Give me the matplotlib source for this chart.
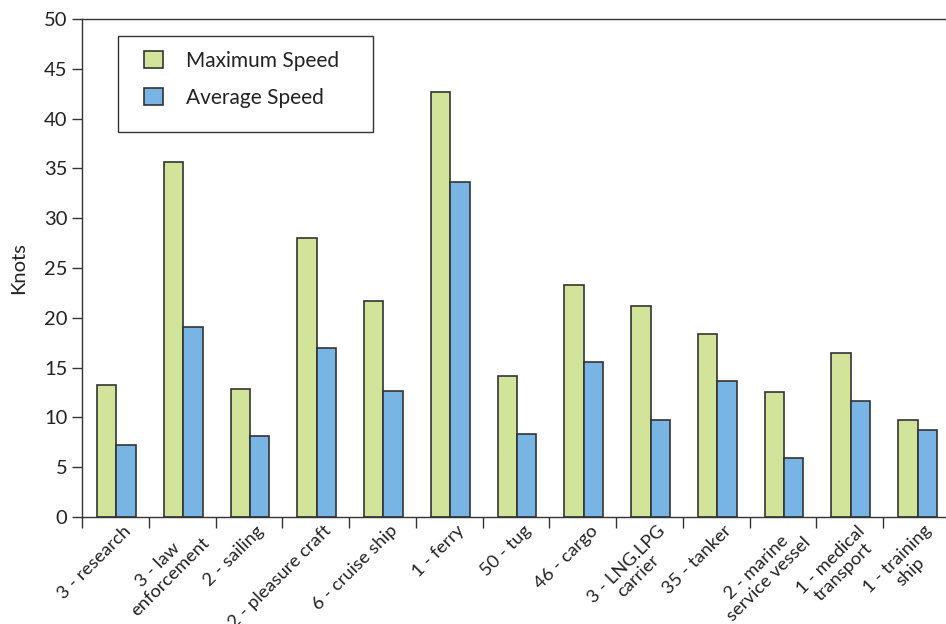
import numpy as np
import matplotlib.pyplot as plt
from matplotlib.patches import Rectangle
from matplotlib.transforms import ScaledTranslation

plt.rcParams['font.family'] = ['Lato', 'DejaVu Sans']

# data
categories = ['3 - research', '3 - law\nenforcement', '2 - sailing', '2 - pleasure craft',
              '6 - cruise ship', '1 - ferry', '50 - tug', '46 - cargo', '3 - LNG.LPG\ncarrier',
              '35 - tanker', '2 - marine\nservice vessel', '1 - medical\ntransport', '1 - training\nship']
max_speed = [13.25, 35.6, 12.85, 28.0, 21.7, 42.7, 14.15, 23.3, 21.2, 18.4, 12.55, 16.45, 9.75]
avg_speed = [7.2, 19.1, 8.1, 17.0, 12.65, 33.6, 8.3, 15.55, 9.75, 13.65, 5.9, 11.65, 8.75]

green = '#d2e49a'
blue = '#78b4e4'
edge = '#333333'
txt = '#222222'

fig = plt.figure(figsize=(9.46, 6.24), dpi=100)
ax = fig.add_axes([82 / 946, 107 / 624, 868 / 946, 498 / 624])

x = np.arange(len(categories))
w = 0.29
ax.bar(x - w / 2 + 0.015, max_speed, w, color=green, edgecolor=edge, linewidth=1.2, label='Maximum Speed')
ax.bar(x + w / 2 + 0.015, avg_speed, w, color=blue, edgecolor=edge, linewidth=1.2, label='Average Speed')

ax.set_xlim(-0.5, len(categories) - 0.5)
ax.set_ylim(0, 50)
ax.set_yticks(range(0, 51, 5))
ax.tick_params(axis='y', labelsize=14.5, length=7, width=1, color=edge, labelcolor=txt)

# tick marks between categories, labels at the centres
ax.set_xticks(np.arange(len(categories) + 1) - 0.5)
ax.set_xticklabels([])
ax.tick_params(axis='x', which='major', length=8, width=1, color=edge)
ax.set_xticks(x, minor=True)
ax.set_xticklabels(categories, minor=True, rotation=45, ha='right', va='top',
                   rotation_mode='anchor', fontsize=13.2, multialignment='center',
                   linespacing=1.1, color=txt)
ax.tick_params(axis='x', which='minor', length=0, pad=4)
offset = ScaledTranslation(5 / 72, 0, fig.dpi_scale_trans)
for lab in ax.xaxis.get_minorticklabels():
    lab.set_transform(lab.get_transform() + offset)

for s in ['left', 'bottom', 'top', 'right']:
    ax.spines[s].set_color(edge)
    ax.spines[s].set_linewidth(1)

ax.set_ylabel('Knots', fontsize=14.5, labelpad=12, color=txt)

# legend box drawn separately so it can be wider than the entries
ax.add_patch(Rectangle((36 / 868, 385 / 498), 255 / 868, 96 / 498, transform=ax.transAxes,
                       facecolor='white', edgecolor=edge, linewidth=1, zorder=4))
leg = ax.legend(loc='upper left', bbox_to_anchor=(62 / 868, 1 - 32 / 498), fontsize=15,
                frameon=False, handlelength=0.9, handleheight=0.9,
                handletextpad=1.1, borderpad=0, labelspacing=0.8, borderaxespad=0)
leg.set_zorder(5)
for t in leg.get_texts():
    t.set_color(txt)

fig.savefig('out.png', dpi=100)
